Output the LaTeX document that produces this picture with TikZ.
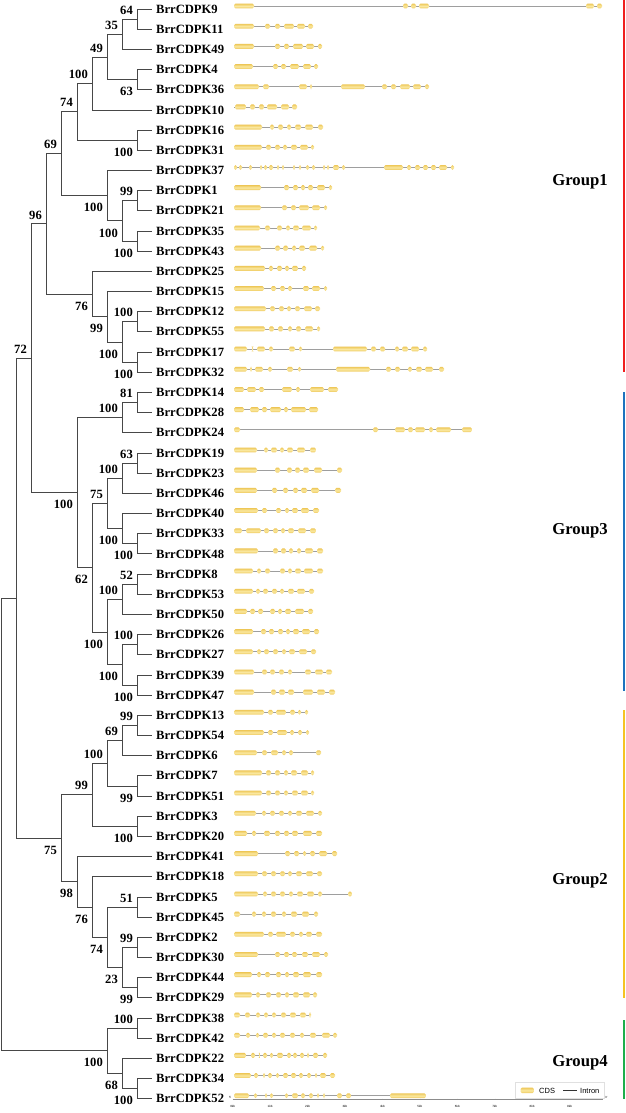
\documentclass[tikz,border=0pt]{standalone}
\usepackage{fontspec}
\setmainfont{Liberation Serif}
\newfontfamily\legendfont{Liberation Sans}
\definecolor{cdsdark}{RGB}{238,200,90}
\definecolor{cdslight}{RGB}{250,232,160}
\definecolor{grpred}{RGB}{240,30,30}
\definecolor{grpblue}{RGB}{30,115,190}
\definecolor{grpyellow}{RGB}{245,195,35}
\definecolor{grpgreen}{RGB}{30,175,75}
\begin{document}
\begin{tikzpicture}[x=1pt,y=-20.18pt]
\tikzstyle{leaf}=[anchor=west,inner xsep=4pt,inner ysep=0pt,font=\fontsize{12.6}{14}\selectfont\bfseries]
\tikzstyle{bsa}=[anchor=east,inner sep=0pt,xshift=-4pt,yshift=9pt,font=\fontsize{12.6}{14}\selectfont\bfseries]
\tikzstyle{bsb}=[anchor=east,inner sep=0pt,xshift=-4pt,yshift=-12pt,font=\fontsize{12.6}{14}\selectfont\bfseries]
\tikzstyle{branch}=[draw=black!72,line width=0.8pt]
\tikzstyle{intron}=[draw=black!38,line width=0.7pt]
\tikzstyle{cds}=[rounded corners=1.5pt,top color=cdsdark,bottom color=cdsdark,middle color=cdslight]
\tikzstyle{grp}=[font=\fontsize{16.7}{18}\selectfont\bfseries]
\tikzstyle{grpbar}=[line width=2pt]
\tikzstyle{tiny}=[inner sep=0pt,font=\fontsize{3}{3}\selectfont\legendfont]

\useasboundingbox (0,-0.446) rectangle (625,54.707);

\foreach \i/\g in {0/9,1/11,2/49,3/4,4/36,5/10,6/16,7/31,8/37,9/1,10/21,11/35,12/43,13/25,14/15,15/12,16/55,17/17,18/32,19/14,20/28,21/24,22/19,23/23,24/46,25/40,26/33,27/48,28/8,29/53,30/50,31/26,32/27,33/39,34/47,35/13,36/54,37/6,38/7,39/51,40/3,41/20,42/41,43/18,44/5,45/45,46/2,47/30,48/44,49/29,50/38,51/42,52/22,53/34,54/52}
  \node[leaf] (l\g) at (152,\i) {BrrCDPK\g};

\coordinate (A) at (137,0.5);
\coordinate (B) at (122,1.25);
\coordinate (C) at (137,3.5);
\coordinate (D) at (107,2.375);
\coordinate (E) at (92,3.6875);
\coordinate (F) at (137,6.5);
\coordinate (G) at (77,5.09375);
\coordinate (H) at (137,9.5);
\coordinate (I) at (137,11.5);
\coordinate (J) at (122,10.5);
\coordinate (K) at (107,9.25);
\coordinate (L) at (61,7.171875);
\coordinate (M) at (137,15.5);
\coordinate (N) at (137,17.5);
\coordinate (O) at (122,16.5);
\coordinate (P) at (107,15.25);
\coordinate (Q) at (92,14.125);
\coordinate (R) at (46,10.6484);
\coordinate (S) at (137,19.5);
\coordinate (T) at (122,20.25);
\coordinate (U) at (137,22.5);
\coordinate (V) at (122,23.25);
\coordinate (W) at (137,26.5);
\coordinate (X) at (122,25.75);
\coordinate (Y) at (107,24.5);
\coordinate (Z1) at (137,28.5);
\coordinate (Z2) at (122,29.25);
\coordinate (Z3) at (137,31.5);
\coordinate (Z4) at (137,33.5);
\coordinate (Z5) at (122,32.5);
\coordinate (Z6) at (107,30.875);
\coordinate (Z7) at (92,27.6875);
\coordinate (Z8) at (77,23.96875);
\coordinate (GA) at (31,17.3086);
\coordinate (AA) at (137,35.5);
\coordinate (AB) at (122,36.25);
\coordinate (AC) at (137,38.5);
\coordinate (AD) at (107,37.375);
\coordinate (AE) at (137,40.5);
\coordinate (AF) at (92,38.9375);
\coordinate (AG) at (137,44.5);
\coordinate (AH) at (137,46.5);
\coordinate (AI) at (137,48.5);
\coordinate (AJ) at (122,47.5);
\coordinate (AK) at (107,46);
\coordinate (AL) at (92,44.5);
\coordinate (AM) at (77,43.25);
\coordinate (AN) at (61,41.09375);
\coordinate (GB) at (16,29.2012);
\coordinate (AO) at (137,50.5);
\coordinate (AP) at (137,53.5);
\coordinate (AQ) at (122,52.75);
\coordinate (AR) at (107,51.625);
\coordinate (RT) at (1,40.4131);

\foreach \p/\c in {A/l9,A/l11,B/A,B/l49,C/l4,C/l36,D/B,D/C,E/D,E/l10,F/l16,F/l31,G/E,G/F,H/l1,H/l21,I/l35,I/l43,J/H,J/I,K/l37,K/J,L/G,L/K,M/l12,M/l55,N/l17,N/l32,O/M,O/N,P/l15,P/O,Q/l25,Q/P,R/L,R/Q,S/l14,S/l28,T/S,T/l24,U/l19,U/l23,V/U,V/l46,W/l33,W/l48,X/l40,X/W,Y/V,Y/X,Z1/l8,Z1/l53,Z2/Z1,Z2/l50,Z3/l26,Z3/l27,Z4/l39,Z4/l47,Z5/Z3,Z5/Z4,Z6/Z2,Z6/Z5,Z7/Y,Z7/Z6,Z8/T,Z8/Z7,GA/R,GA/Z8,AA/l13,AA/l54,AB/AA,AB/l6,AC/l7,AC/l51,AD/AB,AD/AC,AE/l3,AE/l20,AF/AD,AF/AE,AG/l5,AG/l45,AH/l2,AH/l30,AI/l44,AI/l29,AJ/AH,AJ/AI,AK/AG,AK/AJ,AL/l18,AL/AK,AM/l41,AM/AL,AN/AF,AN/AM,GB/GA,GB/AN,AO/l38,AO/l42,AP/l34,AP/l52,AQ/l22,AQ/AP,AR/AO,AR/AQ,RT/GB,RT/AR}
  \draw[branch] (\p) |- (\c);

\foreach \n/\v in {A/64,B/35,D/49,E/100,G/74,H/99,L/69,M/100,R/96,S/81,T/100,U/63,V/100,Y/75,Z1/52,Z2/100,Z3/100,GA/72,AA/99,AB/69,AD/100,AF/99,AG/51,AH/99,AO/100}
  \node[bsa] (b\n) at (\n) {\v};
\foreach \n/\v in {C/63,F/100,I/100,J/100,K/100,N/100,O/100,P/99,Q/76,W/100,X/100,Z4/100,Z5/100,Z6/100,Z7/62,Z8/100,AC/99,AE/100,AI/99,AJ/23,AK/74,AL/76,AM/98,AN/75,AP/100,AQ/68,AR/100}
  \node[bsb] (b\n) at (\n) {\v};

\begin{scope}[yshift=3pt]
\foreach \r/\e/\ex in {
  0/602/{234/254,403/408,411/416,419/429,586/594,597/602},
  1/313/{234/254,265/270,275/280,284/294,297/305,308/313},
  2/322/{234/254,275/280,284/289,293/303,306/314,318/322},
  3/318/{234/253,273/278,281/286,290/299,303/311,314/318},
  4/429/{234/259,263/269,299/307,310/312,341/365,382/387,391/396,400/410,413/421,425/429},
  5/297/{235/246,250/255,259/264,267/277,281/289,292/297},
  6/323/{234/262,270/274,278/283,287/291,295/301,305/313,318/323},
  7/314/{234/262,266/271,275/280,283/287,291/297,300/308,311/314},
  8/454/{234/237,239/242,249/252,260/262,264/267,269/273,277/279,282/284,293/295,299/301,306/309,312/315,323/325,327/329,333/339,342/345,384/403,407/411,415/420,423/428,431/436,439/447,451/454},
  9/332/{234/261,284/289,293/298,301/305,308/313,317/325,329/332},
  10/327/{234/261,282/287,291/296,299/309,312/320,324/327},
  11/317/{234/260,265/270,277/282,286/290,293/299,302/311,314/317},
  12/324/{234/261,275/280,283/288,292/296,299/305,309/317,321/324},
  13/306/{234/265,269/273,277/282,285/289,292/298,302/306},
  14/327/{234/264,271/276,280/285,288/292,303/309,312/320,324/327},
  15/320/{234/266,270/275,279/284,287/291,295/300,304/312,315/320},
  16/320/{234/265,269/274,278/283,288/292,296/301,305/313,317/320},
  17/427/{234/247,252/253,257/265,269/273,289/295,299/302,333/367,371/376,380/385,395/399,402/408,411/419,423/427},
  18/444/{234/247,250/252,255/263,268/272,287/293,298/301,336/370,386/391,395/400,408/412,416/422,425/433,439/444},
  19/338/{234/244,247/256,259/264,282/292,296/300,310/324,328/338},
  20/318/{234/244,250/259,262/267,270/281,284/288,291/306,309/318},
  21/472/{234/240,373/378,395/405,408/413,415/425,429/433,436/451,462/472},
  22/316/{234/257,264/268,271/277,280/284,287/293,297/305,310/316},
  23/342/{234/257,275/280,287/292,295/300,303/309,314/322,337/342},
  24/341/{234/257,272/277,283/288,293/298,301/307,311/319,335/341},
  25/319/{234/258,262/267,276/281,285/289,292/298,301/309,313/319},
  26/316/{234/242,246/261,264/269,273/278,281/285,288/294,298/306,310/316},
  27/323/{234/258,273/278,281/286,289/293,297/301,305/313,317/323},
  28/323/{234/253,257/261,265/270,280/285,288/292,295/301,304/313,317/323},
  29/314/{234/253,256/260,263/268,272/277,280/284,288/294,297/305,309/314},
  30/313/{234/247,250/255,258/263,270/275,278/282,285/291,295/304,308/313},
  31/319/{234/253,261/266,269/274,278/283,286/290,293/299,302/310,314/319},
  32/316/{234/253,257/261,264/269,273/278,282/286,289/295,299/307,311/316},
  33/332/{234/254,262/267,270/275,279/284,288/292,305/311,315/323,326/332},
  34/335/{234/254,271/276,279/285,288/294,303/313,317/325,329/335},
  35/308/{234/264,268/273,276/286,290/295,298/301,305/308},
  36/309/{234/264,268/273,277/287,290/294,298/302,306/309},
  37/321/{234/257,262/267,271/278,282/286,289/293,316/321},
  38/314/{234/262,266/271,275/280,284/288,291/297,301/308,311/314},
  39/314/{234/262,266/271,275/280,284/288,292/298,301/308,311/314},
  40/322/{234/256,262/266,270/275,279/284,288/292,296/302,306/314,318/322},
  41/322/{234/247,252/256,264/270,275/280,284/289,292/298,303/312,316/322},
  42/337/{234/258,285/290,294/299,303/306,310/315,319/327,332/337},
  43/322/{234/258,262/267,271/276,280/285,288/292,296/302,306/313,317/322},
  44/352/{234/258,263/267,271/276,280/285,289/293,297/303,307/314,318/322,348/352},
  45/318/{234/240,252/256,262/266,271/276,282/286,291/297,302/309,314/318},
  46/322/{234/264,268/273,276/286,290/295,299/303,306/312,316/322},
  47/328/{234/258,275/280,284/289,292/297,302/308,312/320,324/328},
  48/322/{234/252,257/261,265/270,276/281,285/289,293/299,303/311,316/322},
  49/317/{234/252,256/260,266/271,276/281,285/289,293/299,303/310,313/317},
  50/311/{234/240,245/250,256/260,264/268,272/276,281/286,290/296,300/306,309/311},
  51/337/{234/240,246/250,256/259,263/268,272/276,280/285,290/295,300/304,310/316,322/330,333/337},
  52/327/{234/246,251/255,259/260,263/267,270/273,277/283,287/291,293/297,300/304,307/309,313/318,323/327},
  53/335/{234/251,254/258,263/265,268/272,276/279,283/288,291/296,299/303,307/311,315/317,320/326,330/335},
  54/426/{234/249,254/257,265/267,270/273,285/288,292/298,301/305,309/313,317/319,323/325,337/342,346/351,390/426}}
{
  \draw[intron] (234,\r) -- (\e,\r);
  \foreach \a/\b in \ex
    \path[cds] (\a,\r-0.12) rectangle (\b,\r+0.12);
}
\end{scope}

\draw[black!45,line width=0.4pt] (232.7,54) -- (603,54);
\foreach \k in {0,...,9} {
  \draw[black!45,line width=0.3pt] (232.7+37.43*\k,54) -- ++(0,-1.2pt);
  \node[tiny] (kb\k) at (232.7+37.43*\k,54.4) {\k kb};
}
\node[tiny,anchor=east] (five) at (231.5,53.95) {5'};
\node[tiny,anchor=west] (three) at (605,53.95) {3'};

\draw[black!12,line width=0.4pt] (515,53.2) rectangle (604,53.95);
\path[cds] (520.5,53.45) rectangle (534,53.72);
\node[anchor=west,inner sep=0pt,font=\fontsize{7.5}{8}\selectfont\legendfont] (cdstext) at (539,53.6) {CDS};
\draw[black!80,line width=0.6pt] (563,53.6) -- (577,53.6);
\node[anchor=west,inner sep=0pt,font=\fontsize{7.5}{8}\selectfont\legendfont] (introntext) at (580,53.6) {Intron};

\node[grp] (g1) at (580,8.56) {Group1};
\node[grp] (g3) at (580,25.87) {Group3};
\node[grp] (g2) at (580,43.2) {Group2};
\node[grp] (g4) at (580,52.2) {Group4};

\draw[grpbar,grpred] (623.5,-0.446) -- (623.5,18);
\draw[grpbar,grpblue] (623.5,19) -- (623.5,33.8);
\draw[grpbar,grpyellow] (623.5,34.75) -- (623.5,49);
\draw[grpbar,grpgreen] (623.5,50.1) -- (623.5,54);
\end{tikzpicture}
\end{document}
